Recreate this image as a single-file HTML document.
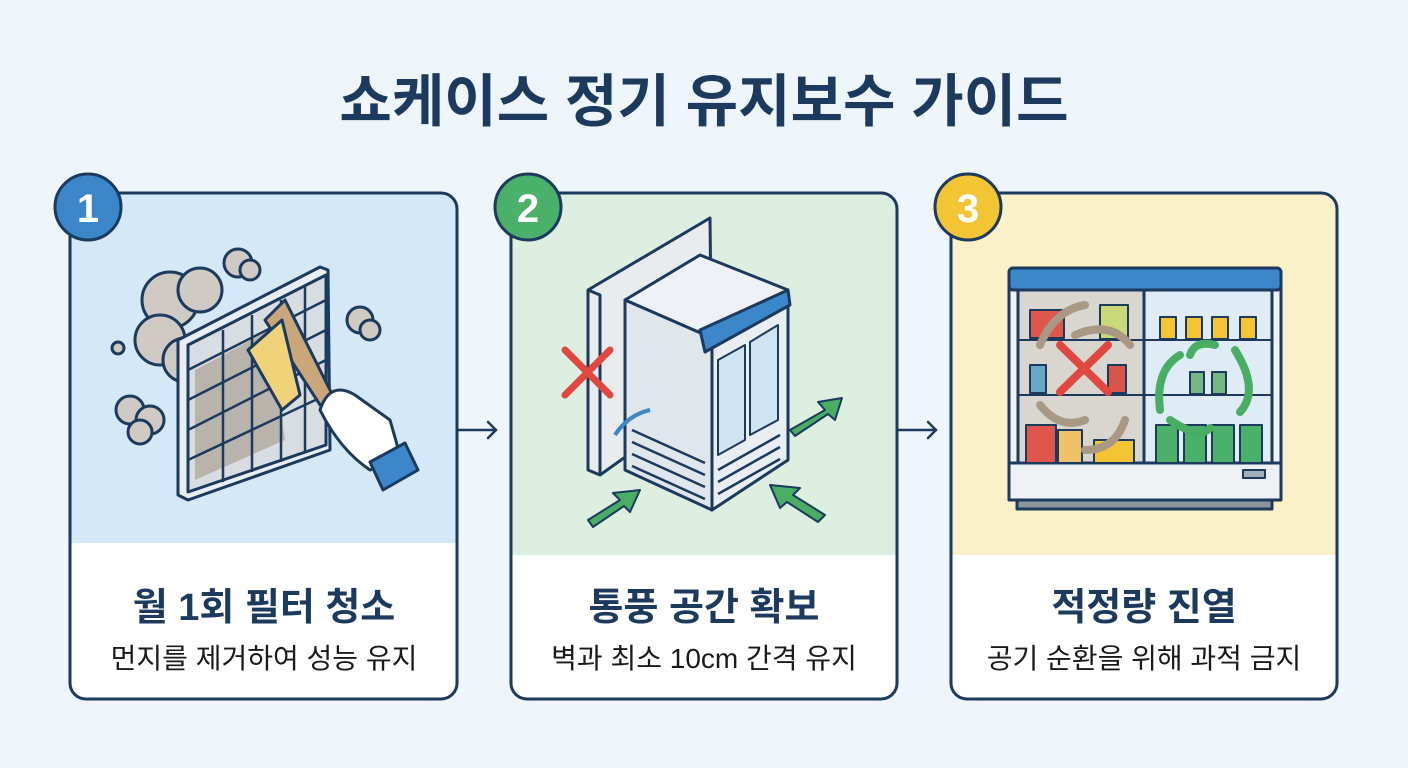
<!DOCTYPE html>
<html><head><meta charset="utf-8"><style>
html,body{margin:0;padding:0;background:#eef5fb;}
svg{display:block}
text{font-family:"Liberation Sans","Noto Sans CJK KR","NanumGothic",sans-serif;}
</style></head><body>
<svg width="1408" height="768" viewBox="0 0 1408 768" xmlns="http://www.w3.org/2000/svg">
<rect width="1408" height="768" fill="#eef5fb"/>
<text x="704" y="121" text-anchor="middle" font-size="57" font-weight="700" fill="#1b3a5e">쇼케이스 정기 유지보수 가이드</text>

<defs>
<clipPath id="c1"><rect x="70" y="193" width="387" height="506" rx="16"/></clipPath>
<clipPath id="c2"><rect x="511" y="193" width="386" height="506" rx="16"/></clipPath>
<clipPath id="c3"><rect x="951" y="193" width="386" height="506" rx="16"/></clipPath>
</defs>
<g clip-path="url(#c1)"><rect x="70" y="193" width="387" height="506" fill="#fff"/><rect x="70" y="193" width="387" height="350" fill="#d5e8f7"/></g>
<g clip-path="url(#c2)"><rect x="511" y="193" width="386" height="506" fill="#fff"/><rect x="511" y="193" width="386" height="362" fill="#dcefe1"/></g>
<g clip-path="url(#c3)"><rect x="951" y="193" width="386" height="506" fill="#fff"/><rect x="951" y="193" width="386" height="362" fill="#fbf1c9"/></g>
<rect x="70" y="193" width="387" height="506" rx="16" fill="none" stroke="#1b3a5e" stroke-width="3"/>
<rect x="511" y="193" width="386" height="506" rx="16" fill="none" stroke="#1b3a5e" stroke-width="3"/>
<rect x="951" y="193" width="386" height="506" rx="16" fill="none" stroke="#1b3a5e" stroke-width="3"/>

<circle cx="88" cy="207" r="33" fill="#3c87c9" stroke="#1b3a5e" stroke-width="3"/>
<text x="88" y="222" text-anchor="middle" font-size="40" font-weight="700" fill="#fff">1</text>
<circle cx="528" cy="207" r="33" fill="#4bb06a" stroke="#1b3a5e" stroke-width="3"/>
<text x="528" y="222" text-anchor="middle" font-size="40" font-weight="700" fill="#fff">2</text>
<circle cx="968" cy="207" r="33" fill="#f3c433" stroke="#1b3a5e" stroke-width="3"/>
<text x="968" y="222" text-anchor="middle" font-size="40" font-weight="700" fill="#fff">3</text>

<g stroke="#1b3a5e" stroke-width="2.5" fill="none" stroke-linecap="round">
<path d="M459 430 H496 M488 422 L496 430 L488 438"/>
<path d="M899 430 H936 M928 422 L936 430 L928 438"/>
</g>

<g font-weight="700" fill="#1b3a5e" font-size="38" text-anchor="middle">
<text x="264" y="620">월 1회 필터 청소</text>
<text x="704" y="620">통풍 공간 확보</text>
<text x="1144" y="620">적정량 진열</text>
</g>
<g fill="#1a1a1a" font-size="28" text-anchor="middle">
<text x="264" y="668">먼지를 제거하여 성능 유지</text>
<text x="704" y="668">벽과 최소 10cm 간격 유지</text>
<text x="1144" y="668">공기 순환을 위해 과적 금지</text>
</g>

<g stroke="#1b3a5e" stroke-width="3" stroke-linejoin="round">
<g fill="#cfcbc4">
<circle cx="170" cy="300" r="28"/><circle cx="200" cy="290" r="22"/><circle cx="160" cy="340" r="25"/><circle cx="185" cy="360" r="22"/>
<circle cx="238" cy="263" r="14"/><circle cx="250" cy="270" r="10"/>
<circle cx="360" cy="320" r="13"/><circle cx="370" cy="330" r="10"/>
<circle cx="130" cy="410" r="14"/><circle cx="150" cy="420" r="14"/><circle cx="140" cy="432" r="12"/>
<circle cx="118" cy="348" r="6"/>
</g>
<path d="M178 340 L320 267 L328 270 L330 450 L188 500 L178 495 Z" fill="#e8eef4"/>
<path d="M188 345 L326 275 L326 445 L188 492 Z" fill="#d8dde2"/>
<path d="M195 370 L270 330 L285 440 L195 480 Z" fill="#b9b4ab" stroke="none"/>
<g fill="none" stroke-width="2.5">
<path d="M223 330 V482 M252 315 V472 M281 300 V462 M305 287 V453"/>
<path d="M188 370 L326 300 M188 400 L326 330 M188 430 L326 360 M188 460 L326 395"/>
</g>
<path d="M265 320 L285 300 L345 420 L335 428 Z" fill="#c9a77a"/>
<path d="M248 350 L282 320 L300 395 L282 410 Z" fill="#f0d27a"/>
<path d="M320 410 Q330 380 355 395 L390 420 L400 455 L370 470 Q340 450 320 410 Z" fill="#fff"/>
<path d="M370 462 L405 443 L418 470 L383 490 Z" fill="#3c87c9"/>
</g>

<g stroke="#1b3a5e" stroke-width="3" stroke-linejoin="round">
<path d="M588 290 L710 218 L712 395 L600 475 L588 470 Z" fill="#e8ecef"/>
<path d="M588 290 L600 295 L600 475" fill="none"/>
<path d="M625 300 L700 255 L788 290 L712 338 Z" fill="#eef2f6"/>
<path d="M625 300 L712 338 L712 510 L625 470 Z" fill="#dfe6ec"/>
<path d="M712 338 L788 290 L788 460 L712 510 Z" fill="#e9eef3"/>
<path d="M700 330 L788 290 L790 305 L705 352 Z" fill="#3c87c9"/>
<path d="M718 360 L745 345 L745 440 L718 455 Z M750 342 L778 325 L778 420 L750 435 Z" fill="#cfe4f2" stroke-width="2"/>
<g stroke-width="2.5"><path d="M632 430 L705 463 M632 442 L705 475 M632 454 L705 487 M632 466 L705 499"/>
<path d="M718 470 L780 435 M718 482 L780 447 M718 494 L780 459"/></g>
<path d="M565 350 L610 395 M610 350 L565 395" stroke="#e0473e" stroke-width="7" stroke-linecap="round"/>
<path d="M790 430 L825 410 L818 402 L842 398 L835 420 L828 414 L795 436 Z" fill="#49ae63" stroke-width="2"/>
<path d="M588 520 L620 500 L613 493 L640 490 L630 512 L624 506 L593 527 Z" fill="#49ae63" stroke-width="2"/>
<path d="M825 515 L793 495 L800 488 L770 485 L780 508 L787 502 L818 522 Z" fill="#49ae63" stroke-width="2"/>
<path d="M615 435 Q628 415 650 410" fill="none" stroke="#3c87c9" stroke-width="4"/>
</g>

<g stroke="#1b3a5e" stroke-width="3" stroke-linejoin="round">
<rect x="1017" y="495" width="255" height="14" fill="#8d959c"/>
<rect x="1009" y="268" width="272" height="232" rx="5" fill="#eef2f5"/>
<rect x="1009" y="268" width="272" height="22" rx="4" fill="#3c87c9"/>
<rect x="1018" y="290" width="126" height="173" fill="#d9d6d0"/>
<rect x="1144" y="290" width="128" height="173" fill="#dfecf5"/>
<g stroke-width="2"><path d="M1018 340 H1272 M1018 395 H1272"/></g>
<rect x="1009" y="463" width="272" height="37" fill="#eef1f4"/>
<rect x="1243" y="470" width="22" height="8" fill="#9fb0ba" stroke-width="2"/>
<g stroke-width="2">
<rect x="1160" y="317" width="16" height="22" fill="#f3c433"/><rect x="1186" y="317" width="16" height="22" fill="#f3c433"/><rect x="1212" y="317" width="16" height="22" fill="#f3c433"/><rect x="1240" y="317" width="16" height="22" fill="#f3c433"/>
<rect x="1190" y="372" width="14" height="22" fill="#77b784"/><rect x="1212" y="372" width="14" height="22" fill="#77b784"/>
<rect x="1156" y="425" width="22" height="38" fill="#4bb06a"/><rect x="1184" y="425" width="22" height="38" fill="#4bb06a"/><rect x="1212" y="425" width="22" height="38" fill="#4bb06a"/><rect x="1240" y="425" width="22" height="38" fill="#4bb06a"/>
<rect x="1026" y="425" width="30" height="38" fill="#e0564c"/><rect x="1058" y="430" width="24" height="33" fill="#f0c36a"/><rect x="1094" y="440" width="40" height="23" fill="#f3c433"/>
<rect x="1030" y="365" width="16" height="28" fill="#6aa6c6"/><rect x="1108" y="365" width="18" height="28" fill="#d9544a"/>
<rect x="1030" y="310" width="34" height="28" fill="#e0564c"/><rect x="1100" y="305" width="28" height="34" fill="#c9d97a"/>
</g>
<g fill="none" stroke-width="8" stroke-linecap="round">
<path d="M1160 410 Q1155 370 1180 355" stroke="#49ae63"/><path d="M1235 350 Q1260 390 1240 412" stroke="#49ae63"/>
<path d="M1170 420 Q1200 440 1210 428" stroke="#49ae63"/><path d="M1215 345 Q1195 340 1190 355" stroke="#49ae63"/>
<path d="M1040 345 Q1055 310 1085 305" stroke="#a89884"/><path d="M1075 335 Q1110 320 1130 345" stroke="#a89884"/>
<path d="M1040 405 Q1060 430 1085 420" stroke="#a89884"/><path d="M1085 450 Q1115 450 1125 420" stroke="#a89884"/>
</g>
<path d="M1060 345 L1108 392 M1108 345 L1060 392" stroke="#e0473e" stroke-width="8" stroke-linecap="round"/>
</g>
</svg>
</body></html>
